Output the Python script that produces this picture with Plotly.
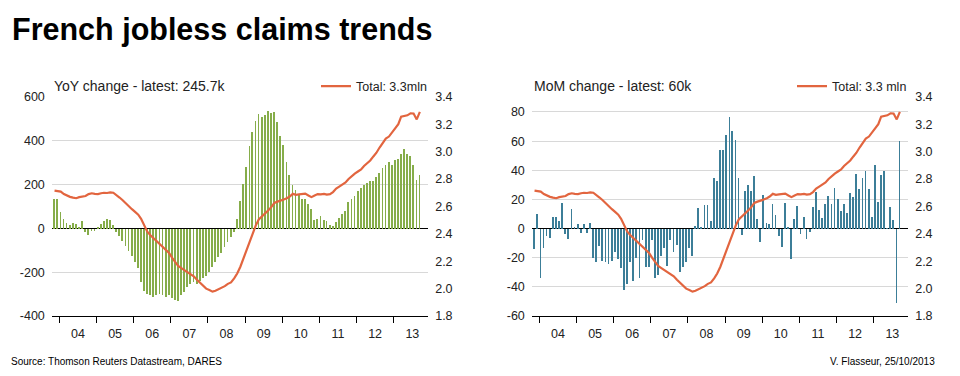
import pandas as pd
import plotly.graph_objects as go

# ---------------- data ----------------
START_MONTH = "2003-11-01"   # first monthly observation (Nov 2003 .. Sep 2013)
N_MONTHS = 119

# Year-on-year change in jobless claims (thousands)
yoy_change = [
    133, 133, 77, 43, 27, 15, 25, 19, 8, 36, -15, -30, -10, -12,
    5, 19, 34, 43, 38, 15, -15, -36, -58, -80, -101, -123, -152, -181,
    -246, -283, -297, -304, -312, -304, -297, -304, -312, -304, -319, -326,
    -330, -304, -290, -268, -254, -246, -254, -239, -225, -217, -196, -174,
    -152, -130, -110, -85, -60, -40, -15,
    44, 126, 204, 281, 378, 441, 489, 521, 511, 516, 536, 526, 533, 486,
    422, 382, 304, 244, 200, 178, 156, 136, 133, 111, 89, 37, 44, 59, 37,
    33, 15, 10, 30, 47, 67, 81, 119, 133, 148, 170, 185, 200, 207, 215,
    215, 237, 252, 274, 289, 304, 289, 311, 319, 338, 363, 338, 333, 291,
    222, 246,
]

# Month-on-month change in jobless claims (thousands)
mom_change = [
    -14, 10, -34, -13, -5, -6, 8, 8, 5, 18, -3.5, -7, 13.5, 1,
    3, -3, 3, -3, 4, -20, -23, -12, -22, -22.5, -24, -22, -16, -21,
    -27, -42, -38, -23, -36, -20, -34, -8, -26, -26, -8, -34,
    -32, -18.5, -13, -25.5, -7.5, -16, -11, -30, -26, -23, -13, -19,
    2, 14, 1, 16, 16, 5, 35, 33, 54, 54, 64, 77, 67, 61, 35, -4,
    26, 30, 26, 36, 7, -9, 23, 4, 3, 17, 9.5, -5, -12.5, 17.7,
    1, -20.7, 7, 15.5, -3.7, 8.4, -7, -2, 15, 25, 12.8, 7.3, 16.8,
    22.7, 17, 27.8, 20.7, 12.4, 16.8, 10.6, 24.5, 21.9, 37.5, 27, 35,
    39.7, 27.4, 8, 43.5, 18.3, 37, 39.7, 0.5, 14.6, 5.7, -50.8, 60,
]

# Total jobless claims (millions)
total_claims = [
    2.716, 2.712, 2.708, 2.690, 2.678, 2.670, 2.664, 2.660, 2.668, 2.672,
    2.676, 2.690, 2.696, 2.692, 2.690, 2.696, 2.700, 2.698, 2.702, 2.700,
    2.685, 2.665, 2.645, 2.622, 2.600, 2.580, 2.560, 2.540, 2.510, 2.460,
    2.416, 2.390, 2.369, 2.345, 2.320, 2.300, 2.280, 2.260, 2.225, 2.195,
    2.165, 2.150, 2.135, 2.120, 2.110, 2.090, 2.065, 2.042, 2.020, 2.000,
    1.990, 1.978, 1.985, 1.995, 2.005, 2.018, 2.035, 2.045, 2.075, 2.110,
    2.160, 2.220, 2.285, 2.345, 2.405, 2.460, 2.505, 2.525, 2.545, 2.570,
    2.595, 2.625, 2.635, 2.640, 2.650, 2.660, 2.672, 2.692, 2.685, 2.688,
    2.690, 2.694, 2.680, 2.668, 2.680, 2.690, 2.688, 2.692, 2.686, 2.690,
    2.705, 2.730, 2.745, 2.760, 2.775, 2.800, 2.822, 2.840, 2.855, 2.870,
    2.895, 2.912, 2.935, 2.965, 2.992, 3.030, 3.065, 3.095, 3.110, 3.140,
    3.172, 3.200, 3.255, 3.260, 3.265, 3.280, 3.278, 3.235, 3.290,
]

yoy_ticks = [-400, -200, 0, 200, 400, 600]
yoy_ticktext = ["-400", "-200", "0", "200", "400", "600"]
mom_ticks = [-60, -40, -20, 0, 20, 40, 60, 80]
mom_ticktext = ["-60", "-40", "-20", "0", "20", "40", "60", "80"]
total_ticks = [1.8, 2.0, 2.2, 2.4, 2.6, 2.8, 3.0, 3.2, 3.4]
total_ticktext = ["1.8", "2.0", "2.2", "2.4", "2.6", "2.8", "3.0", "3.2", "3.4"]

title_text = "French jobless claims trends"
left_title = "YoY change - latest: 245.7k"
right_title = "MoM change - latest: 60k"
left_legend = "Total: 3.3mln"
right_legend = "Total: 3.3 mln"
source_text = "Source: Thomson Reuters Datastream, DARES"
author_text = "V. Flasseur, 25/10/2013"

# ---------------- styling ----------------
W, H = 960, 376
FONT = "Liberation Sans, Arial, sans-serif"
GREEN = "#86ad4a"
BLUE = "#3c7e98"
ORANGE = "#e2653f"
GRID = "#d8d8d8"
TXT = "#222222"

months = pd.date_range(START_MONTH, periods=N_MONTHS, freq="MS") + pd.Timedelta(days=14)
bar_w = 8 * 24 * 3600 * 1000

def px_x(p):
    return p / W

def px_y(p):
    return 1 - p / H

x1_dom = [px_x(52.3), px_x(427.7)]
x2_dom = [px_x(532.3), px_x(907.7)]
y_dom = [px_y(321), px_y(93.3)]
x_range = ["2003-10-24", "2013-12-01"]

fig = go.Figure()

fig.add_trace(go.Bar(x=months, y=yoy_change, xaxis="x", yaxis="y",
                     marker=dict(color=GREEN, line=dict(width=0)), width=bar_w,
                     showlegend=False))
fig.add_trace(go.Scatter(x=months, y=total_claims, xaxis="x", yaxis="y2",
                         mode="lines", line=dict(color=ORANGE, width=2.2),
                         name=left_legend, legend="legend"))
fig.add_trace(go.Bar(x=months, y=mom_change, xaxis="x2", yaxis="y3",
                     marker=dict(color=BLUE, line=dict(width=0)), width=bar_w,
                     showlegend=False))
fig.add_trace(go.Scatter(x=months, y=total_claims, xaxis="x2", yaxis="y4",
                         mode="lines", line=dict(color=ORANGE, width=2.2),
                         name=right_legend, legend="legend2"))

tickfont = dict(family=FONT, size=12.5, color=TXT)

xcommon = dict(type="date", range=x_range, tick0="2004-01-01", dtick="M12",
               tickformat="%y", ticklabelmode="period", ticks="outside",
               ticklen=6, tickwidth=1, tickcolor="black", showline=True,
               linecolor="black", linewidth=1, showgrid=False, zeroline=False,
               tickfont=tickfont, fixedrange=True)

ycommon_left = dict(showgrid=True, gridcolor=GRID, gridwidth=1, zeroline=True,
                    zerolinecolor="black", zerolinewidth=1.3, tickfont=tickfont,
                    showline=False, ticks="outside", ticklen=4,
                    tickcolor="rgba(0,0,0,0)", tickmode="array")
ycommon_right = dict(showgrid=False, zeroline=False, tickfont=tickfont,
                     showline=False, side="right", ticks="outside", ticklen=4,
                     tickcolor="rgba(0,0,0,0)", tickmode="array",
                     range=[1.8, 3.4], tickvals=total_ticks,
                     ticktext=total_ticktext)

fig.update_layout(
    width=W, height=H,
    margin=dict(l=0, r=0, t=0, b=0),
    paper_bgcolor="white", plot_bgcolor="white",
    bargap=0,
    font=dict(family=FONT, color=TXT),
    xaxis=dict(domain=x1_dom, anchor="y", **xcommon),
    xaxis2=dict(domain=x2_dom, anchor="y3", **xcommon),
    yaxis=dict(domain=y_dom, anchor="x", range=[-400, 600],
               tickvals=yoy_ticks, ticktext=yoy_ticktext, **ycommon_left),
    yaxis2=dict(domain=y_dom, anchor="x", overlaying="y", **ycommon_right),
    yaxis3=dict(domain=y_dom, anchor="x2", range=[-60, 90.4],
                tickvals=mom_ticks, ticktext=mom_ticktext, **ycommon_left),
    yaxis4=dict(domain=y_dom, anchor="x2", overlaying="y3", **ycommon_right),
    legend=dict(x=px_x(432), y=px_y(82.5), xanchor="right", yanchor="middle",
                bgcolor="rgba(0,0,0,0)", font=dict(family=FONT, size=12.5, color=TXT),
                itemwidth=30),
    legend2=dict(x=px_x(912), y=px_y(82.5), xanchor="right", yanchor="middle",
                 bgcolor="rgba(0,0,0,0)", font=dict(family=FONT, size=12.5, color=TXT),
                 itemwidth=30),
    annotations=[
        dict(text=f"<b>{title_text}</b>", x=px_x(10), y=px_y(23), xref="paper",
             yref="paper", xanchor="left", yanchor="middle", showarrow=False,
             font=dict(family=FONT, size=30.5, color="black")),
        dict(text=left_title, x=px_x(52), y=px_y(81.7), xref="paper", yref="paper",
             xanchor="left", yanchor="middle", showarrow=False,
             font=dict(family=FONT, size=14, color=TXT)),
        dict(text=right_title, x=px_x(532), y=px_y(81.7), xref="paper", yref="paper",
             xanchor="left", yanchor="middle", showarrow=False,
             font=dict(family=FONT, size=14, color=TXT)),
        dict(text=source_text, x=px_x(9), y=px_y(367.7), xref="paper", yref="paper",
             xanchor="left", yanchor="middle", showarrow=False,
             font=dict(family=FONT, size=10, color="black")),
        dict(text=author_text, x=px_x(937), y=px_y(367.7), xref="paper", yref="paper",
             xanchor="right", yanchor="middle", showarrow=False,
             font=dict(family=FONT, size=10, color="black")),
    ],
)

fig.write_html(
    "out.html",
    config={"responsive": False, "displayModeBar": False},
    post_script=(
        "document.documentElement.style.margin='0';"
        "document.body.style.margin='0';document.body.style.overflow='hidden';"
        "var g=document.querySelector('.plotly-graph-div');"
        "g.style.position='fixed';g.style.top='0px';g.style.left='0px';"
    ),
)
